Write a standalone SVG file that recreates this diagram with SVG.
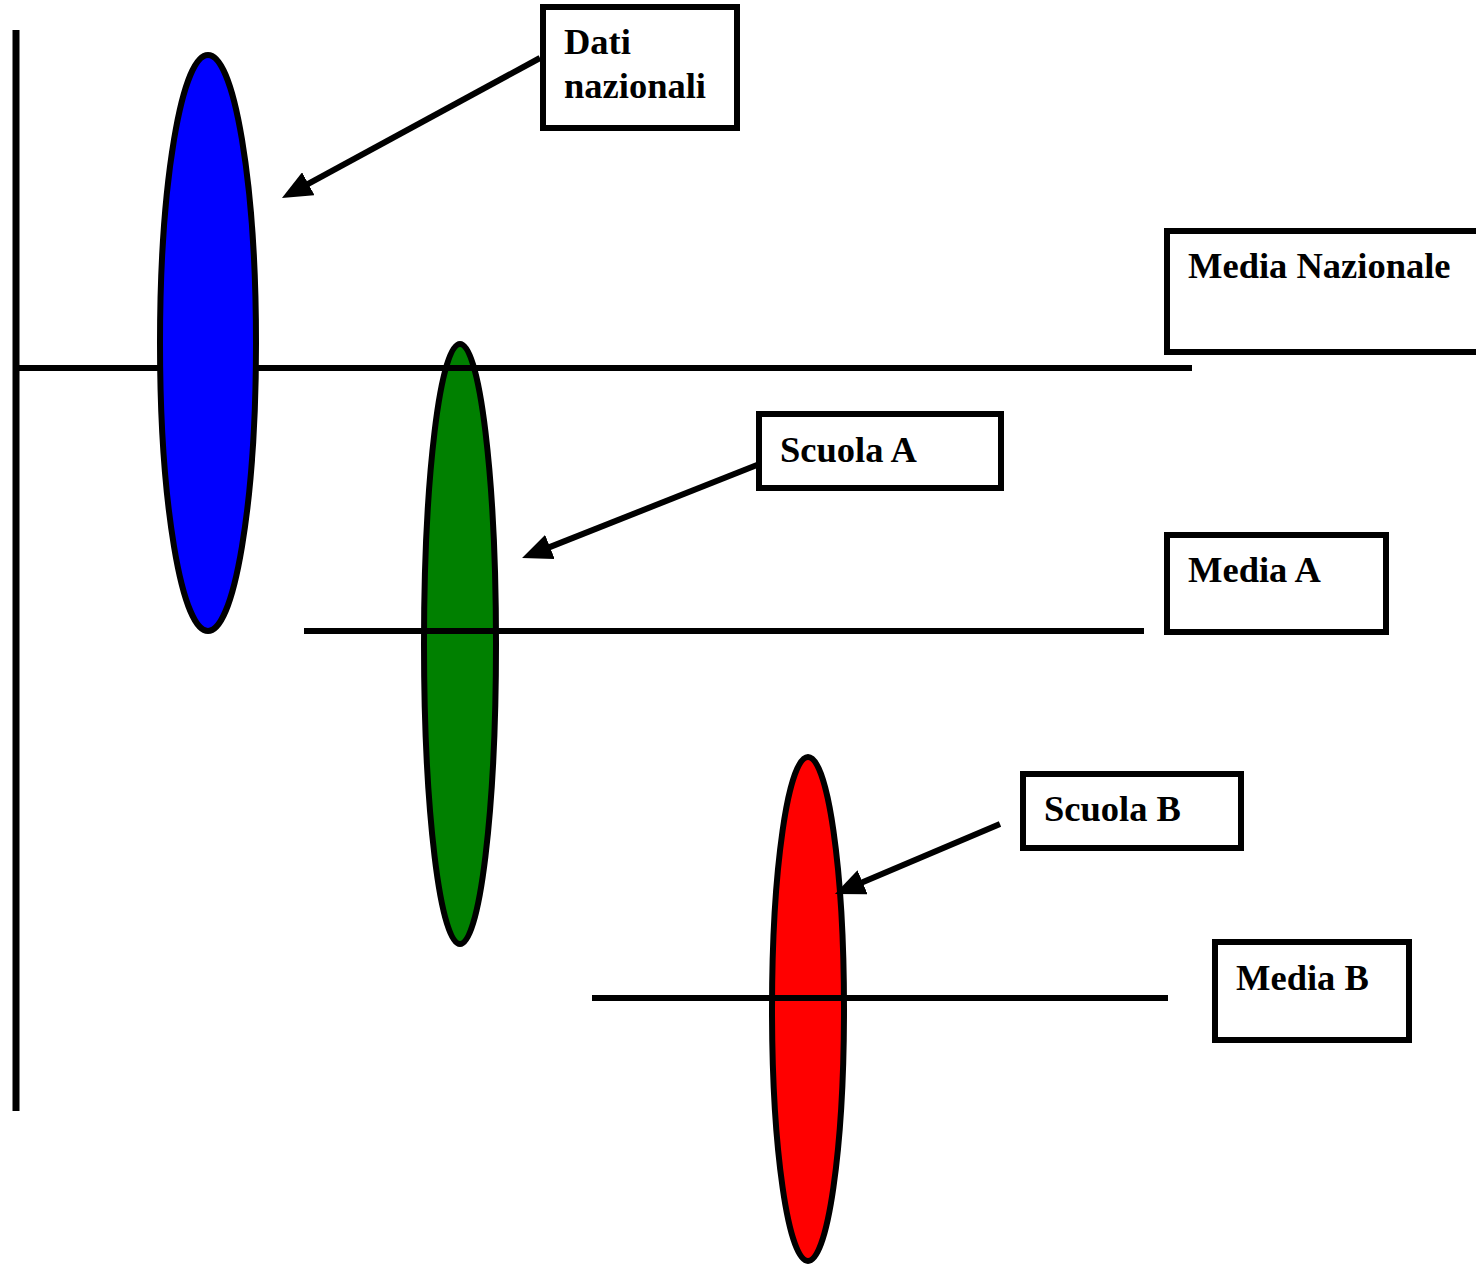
<svg xmlns="http://www.w3.org/2000/svg" width="1476" height="1264" viewBox="0 0 1476 1264">
<style>
.ax{stroke:#000;stroke-width:6;fill:none}
.el{stroke:#000;stroke-width:6}
.box{fill:#fff;stroke:#000;stroke-width:6}
.lbl{font-family:"Liberation Serif","Times New Roman",serif;font-weight:bold;font-size:36.5px;fill:#000}
.arr{stroke:#000;stroke-width:6;fill:none;marker-end:url(#ah)}
</style>
<defs>
<marker id="ah" markerUnits="userSpaceOnUse" viewBox="0 0 30 26" refX="18" refY="13" markerWidth="30" markerHeight="26" orient="auto">
<path d="M0,0 L30,13 L0,26 Z" fill="#000"/>
</marker>
</defs>
<g id="ellipse-a"><ellipse class="el" cx="460" cy="644" rx="36" ry="300" fill="#008000"/></g>
<g id="ellipse-b"><ellipse class="el" cx="808" cy="1009" rx="36" ry="252" fill="#ff0000"/></g>
<g id="axes">
<line class="ax" x1="16" y1="30" x2="16" y2="1111" style="stroke-width:7"/>
<line class="ax" x1="18" y1="368" x2="1192" y2="368"/>
<line class="ax" x1="304" y1="631" x2="1144" y2="631"/>
<line class="ax" x1="592" y1="998" x2="1168" y2="998"/>
</g>
<g id="ellipse-nazionale"><ellipse class="el" cx="208" cy="343" rx="48" ry="288" fill="#0000ff"/></g>
<g id="connectors">
<line class="arr" x1="540" y1="58" x2="292.5" y2="192.3"/>
<line class="arr" x1="757" y1="465" x2="533.2" y2="553.6"/>
<line class="arr" x1="1000" y1="824" x2="846" y2="889.3"/>
</g>
<g id="box-dati"><rect class="box" x="543" y="7" width="194" height="121"/><text class="lbl" x="564" y="54">Dati</text><text class="lbl" x="564" y="98">nazionali</text></g>
<g id="box-media-nazionale"><rect class="box" x="1167" y="231" width="315" height="121"/><text class="lbl" x="1188" y="278">Media Nazionale</text></g>
<g id="box-scuola-a"><rect class="box" x="759" y="414" width="242" height="74"/><text class="lbl" x="780" y="462">Scuola A</text></g>
<g id="box-media-a"><rect class="box" x="1167" y="535" width="219" height="97"/><text class="lbl" x="1188" y="582">Media A</text></g>
<g id="box-scuola-b"><rect class="box" x="1023" y="774" width="218" height="74"/><text class="lbl" x="1044" y="821">Scuola B</text></g>
<g id="box-media-b"><rect class="box" x="1215" y="942" width="194" height="98"/><text class="lbl" x="1236" y="990">Media B</text></g>
</svg>
